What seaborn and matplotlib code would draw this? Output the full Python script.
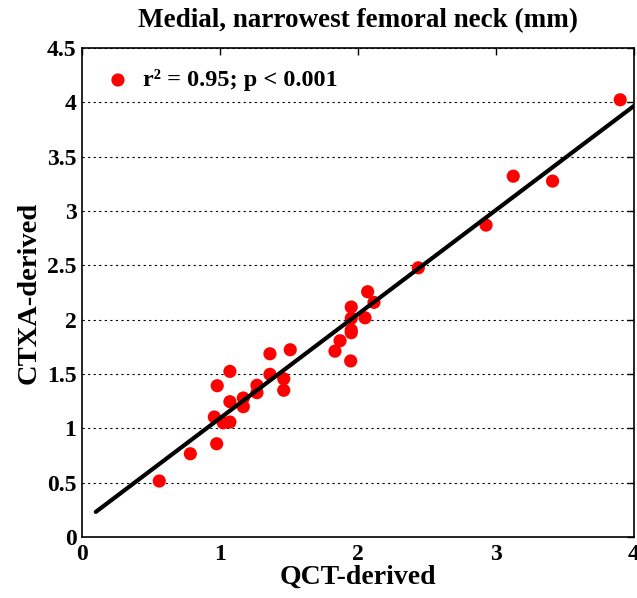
import numpy as np
import pandas as pd
import matplotlib
matplotlib.use('Agg')
import matplotlib.pyplot as plt
import seaborn as sns

# values
qct = [0.56, 0.785, 0.976, 0.959, 1.024, 1.072, 1.072, 0.98, 1.072, 1.169, 1.169,
       1.268, 1.268, 1.362, 1.362, 1.462, 1.462, 1.509, 1.833, 1.87, 1.947, 1.951,
       1.951, 1.951, 1.951, 2.051, 2.07, 2.116, 2.437, 2.928, 3.125, 3.41, 3.90]
ctxa = [0.515, 0.766, 0.858, 1.104, 1.051, 1.058, 1.245, 1.392, 1.524, 1.279, 1.199,
        1.396, 1.328, 1.497, 1.686, 1.456, 1.350, 1.723, 1.71, 1.806, 1.62, 1.88,
        1.904, 2.012, 2.116, 2.017, 2.257, 2.159, 2.477, 2.87, 3.32, 3.275, 4.023]
fit_slope = 0.958
fit_intercept = 0.135
fit_range = [0.1, 4.0]

df = pd.DataFrame({'QCT-derived': qct, 'CTXA-derived': ctxa})

sns.set_style('white')
plt.rcParams['font.family'] = ['Liberation Serif', 'DejaVu Serif']
plt.rcParams['font.weight'] = 'bold'
plt.rcParams['text.color'] = 'black'
plt.rcParams['axes.labelcolor'] = 'black'

fig = plt.figure(figsize=(6.37, 5.98), dpi=100)
ax = fig.add_axes([0.1287, 0.102, 0.8666, 0.8178])

sns.scatterplot(x='QCT-derived', y='CTXA-derived', data=df, color='red', s=90,
                edgecolor='none', label='r² = 0.95; p < 0.001', ax=ax, zorder=3)
fx = np.array(fit_range)
ax.plot(fx, fit_slope * fx + fit_intercept, color='black', lw=3, zorder=4)

ax.set_xlim(0, 4)
ax.set_ylim(0, 4.5)
ax.set_xticks([0, 1, 2, 3, 4])
ax.set_yticks(np.arange(0, 4.51, 0.5))
ax.set_yticklabels(['0', '0.5', '1', '1.5', '2', '2.5', '3', '3.5', '4', '4.5'])
ax.grid(True, axis='y', color='black', linestyle=(0, (2, 3)), linewidth=0.8)
ax.tick_params(direction='in', length=5, width=1, top=True, right=True,
               labelsize=17, colors='black', pad=4)
ax.tick_params(axis='x', pad=5)
for s in ax.spines.values():
    s.set_color('black')
    s.set_linewidth(1.2)

fig.text(0.562, 0.965, 'Medial, narrowest femoral neck (mm)', fontsize=19.5,
         fontweight='bold', ha='center', va='center', color='black')
ax.set_xlabel('QCT-derived', fontsize=20, fontweight='bold', labelpad=0)
ax.set_ylabel('CTXA-derived', fontsize=20.5, fontweight='bold', labelpad=4)

leg = ax.legend(loc='upper left', frameon=False, fontsize=17.5, handletextpad=0.43,
                handlelength=1.2, borderaxespad=0.48, markerscale=1.0)
for t in leg.get_texts():
    t.set_fontweight('bold')
    t.set_color('black')

fig.savefig('out.png', dpi=100)
